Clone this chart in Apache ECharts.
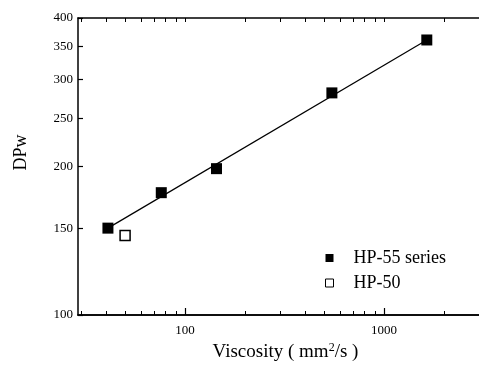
<!DOCTYPE html>
<html>
<head>
<meta charset="utf-8">
<script src="https://cdn.jsdelivr.net/npm/echarts@6/dist/echarts.min.js"></script>
<style>
  html, body { margin: 0; padding: 0; background: #fff; }
  #chart { width: 479px; height: 367px; }
</style>
</head>
<body>
<div id="chart"></div>
<script>
// data (log-log plot)
const hp55Viscosity = [41, 76, 144, 547, 1640]
const hp55DPw = [150, 177, 198, 282, 361]
const hp50Viscosity = [50]
const hp50DPw = [145]
const fitViscosity = [41, 1640]
const fitDPw = [150, 361]

const yTickValues = [100, 150, 200, 250, 300, 350, 400]
const xLabelValues = [100, 1000]
const xMinorValues = [30, 40, 50, 60, 70, 80, 90, 200, 300, 400, 500, 600, 700, 800, 900, 2000, 3000]

const log = (v) => Math.log10(v)
const pairs = (xs, ys) => xs.map((x, i) => [log(x), log(ys[i])])

const serif = 'Liberation Serif'
const black = '#000'

const chart = echarts.init(document.getElementById('chart'))

const xBase = {
	type: 'value',
	min: log(29),
	max: log(3000),
	splitLine: { show: false },
	axisLine: { show: true, onZero: false, lineStyle: { color: black, width: 1.5 } },
}

const option = {
	backgroundColor: '#fff',
	animation: false,
	grid: { left: 78, right: -6, top: 18, bottom: 52 },
	xAxis: [
		{
			...xBase,
			position: 'bottom',
			name: 'Viscosity ( mm{sup|2}/s )',
			nameLocation: 'middle',
			nameGap: 24,
			nameTextStyle: {
				fontFamily: serif,
				fontSize: 19,
				color: black,
				padding: [0, 0, 0, 14],
				rich: {
					sup: { fontFamily: serif, fontSize: 12, color: black, padding: [0, 0, 8, 0] },
				},
			},
			axisTick: {
				show: true,
				inside: true,
				length: 7,
				lineStyle: { color: black, width: 1.2 },
				customValues: xLabelValues.map(log),
			},
			axisLabel: {
				show: true,
				margin: 9,
				fontFamily: serif,
				fontSize: 13,
				color: black,
				customValues: xLabelValues.map(log),
				formatter: (v) => String(Math.round(Math.pow(10, v))),
			},
		},
		{
			...xBase,
			position: 'bottom',
			axisTick: {
				show: true,
				inside: true,
				length: 4,
				lineStyle: { color: black, width: 1 },
				customValues: xMinorValues.map(log),
			},
			axisLabel: { show: false },
		},
		{
			...xBase,
			position: 'top',
			axisTick: {
				show: true,
				inside: true,
				length: 4,
				lineStyle: { color: black, width: 1 },
				customValues: xMinorValues.concat(xLabelValues).map(log),
			},
			axisLabel: { show: false },
		},
	],
	yAxis: {
		type: 'value',
		min: log(100),
		max: log(400),
		name: 'DPw',
		nameLocation: 'middle',
		nameGap: 48,
		nameTextStyle: { fontFamily: serif, fontSize: 18, color: black, padding: [0, 0, 0, 28] },
		splitLine: { show: false },
		axisLine: { show: true, lineStyle: { color: black, width: 1.5 } },
		axisTick: {
			show: true,
			inside: true,
			length: 5,
			lineStyle: { color: black, width: 1.2 },
			customValues: yTickValues.map(log),
		},
		axisLabel: {
			show: true,
			margin: 5,
			fontFamily: serif,
			fontSize: 13,
			color: black,
			customValues: yTickValues.map(log),
			formatter: (v) => String(Math.round(Math.pow(10, v))),
		},
	},
	legend: {
		orient: 'vertical',
		left: 320,
		top: 244,
		itemWidth: 8,
		itemHeight: 8,
		itemGap: 7,
		textStyle: { fontFamily: serif, fontSize: 18, lineHeight: 18, color: black, padding: [0, 0, 0, 15] },
		data: [
			{ name: 'HP-55 series', icon: 'rect', itemStyle: { color: black, borderWidth: 0 } },
			{ name: 'HP-50', icon: 'rect', itemStyle: { color: '#fff', borderColor: black, borderWidth: 1 } },
		],
	},
	series: [
		{
			name: 'fit',
			type: 'line',
			data: pairs(fitViscosity, fitDPw),
			showSymbol: false,
			symbol: 'none',
			lineStyle: { color: black, width: 1.2 },
			z: 1,
		},
		{
			name: 'HP-55 series',
			type: 'scatter',
			data: pairs(hp55Viscosity, hp55DPw),
			symbol: 'rect',
			symbolSize: 11,
			itemStyle: { color: black, opacity: 1 },
			z: 3,
		},
		{
			name: 'HP-50',
			type: 'scatter',
			data: pairs(hp50Viscosity, hp50DPw),
			symbol: 'rect',
			symbolSize: 10,
			itemStyle: { color: '#fff', borderColor: black, borderWidth: 1.5, opacity: 1 },
			z: 3,
		},
	],
}

chart.setOption(option)
</script>
</body>
</html>
